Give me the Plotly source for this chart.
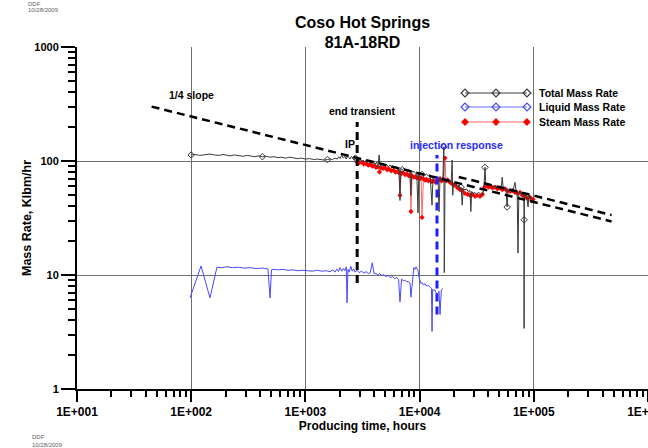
import plotly.graph_objects as go

# ---------------------------------------------------------------------------
# Well 81A-18RD production history: producing time (hours) vs mass rate (Klbm/hr)
# ---------------------------------------------------------------------------
total_hours = [
    100, 108, 119, 132, 146, 160, 175, 190, 205, 219, 240, 262, 285, 310, 335,
    360, 390, 420, 455, 490, 530, 575, 620, 670, 730, 790, 850, 920, 1010, 1090,
    1180, 1270, 1343, 1450, 1560, 1642, 1720, 1816, 1900, 1960, 2010, 2080, 2150,
    2222, 2280, 2340, 2400, 2458, 2530, 2611, 2680, 2750,
    2830, 2900, 2970, 3050, 3120, 3200, 3290, 3380, 3470, 3560, 3650, 3750, 3850,
    3950, 4069, 4200, 4330, 4420, 4500, 4650, 4800, 4977, 5150, 5300, 5505, 5700,
    5900, 6088, 6280, 6470, 6600, 6734, 6850, 7050, 7250, 7448, 7650, 7850, 8050,
    8240, 8400, 8550, 8753, 8950, 9200, 9450, 9683, 9850, 10080, 10300, 10500,
    10800, 11150, 11500, 11900, 12340, 12850, 13100, 13400, 13640, 13900, 14200,
    14500, 14800, 15090, 15500, 16000, 16300, 16450, 16550, 16700, 17100, 17600,
    18000, 18460, 18900, 19270, 19500, 19800, 20420, 20900, 21500, 22000, 22590,
    23100, 23600, 24100, 24980, 25800, 26600, 27630, 28100, 28600, 29500, 30560,
    31500, 32600, 33800, 35000, 36000, 36700, 37390, 38000, 39000, 40000, 41350,
    42500, 43800, 45000, 46500, 48000, 49500, 50580, 51800, 52830, 54000, 55950,
    57000, 58400, 59500, 61000, 62500, 64000, 66000, 68450, 70000, 71500, 72700,
    74000, 75700, 77500, 79500, 81000, 82000, 82200, 82400, 82700, 84500, 86500,
    89100, 90500, 92620, 95000, 97000, 98700,
]
total_rate = [
    113, 114, 112, 113, 115, 113, 112, 114, 112, 111, 113, 112, 110, 112, 110,
    109, 111, 109, 110, 108, 109, 107, 108, 106, 108, 106, 105, 106, 104, 105,
    103, 104, 103, 102, 103, 104, 103, 106, 104, 109, 105, 112, 106, 110, 104,
    111, 107, 104, 110, 105, 102, 106,
    102, 104, 100, 103, 99, 102, 98, 101, 97, 100, 96, 99, 95,
    98, 94, 97, 93, 113, 95, 92, 94, 91, 93, 89, 92, 88,
    90, 87, 89, 86, 88, 45, 86, 84, 86, 83, 85, 82, 84,
    81, 50, 82, 80, 81, 78, 80, 35, 79, 77, 79, 76,
    78, 75, 77, 74, 76, 41, 74, 72, 74, 71, 73,
    70, 36, 72, 69, 71, 133, 10.5, 21.6, 70, 68, 70,
    66, 68, 65, 102, 50, 64, 62, 63, 60, 61, 58,
    59, 41, 57, 56, 57, 54, 55, 36, 54, 52, 53,
    51, 53, 52, 50, 53, 62, 88, 63, 61, 64, 60,
    62, 59, 61, 58, 60, 57, 59, 57, 72, 58, 56,
    58, 39.5, 56, 55, 57, 54, 56, 65, 54, 55, 15.6,
    53, 54, 51, 53, 50, 51, 3.4, 30.5, 50, 52, 49,
    39.5, 50, 47, 48, 46, 47,
]

liquid_hours = [
    97.6, 122, 146, 168, 185, 205, 230, 260, 290, 327, 370, 420, 470, 490, 505,
    531, 580, 640, 700, 780, 860, 950, 1050, 1150, 1270, 1400, 1530, 1642, 1740,
    1816, 1880, 1950, 2010, 2080, 2150, 2222, 2280, 2314, 2360, 2420, 2500, 2570,
    2650, 2720, 2830, 2950, 3100, 3250, 3400, 3550, 3700, 3850, 4000, 4150, 4300,
    4450, 4650, 4850, 5050, 5300, 5550, 5800, 6050, 6300, 6550, 6734, 6950, 7200,
    7450, 7700, 7950, 8240, 8400, 8600, 8753, 8900, 9100, 9300, 9500, 9683, 9900,
    10080, 10300, 10500, 10800, 11150, 11500, 11900, 12340, 12700, 12850, 13000,
    13300, 13640, 13900, 14200, 14500, 14800, 15090, 15500, 16030,
]
liquid_rate = [
    6.3, 12.0, 6.3, 11.7, 11.6, 11.8, 11.6, 11.7, 11.5, 11.6, 11.4, 11.5, 11.3, 6.3, 11.1,
    11.2, 11.1, 11.2, 11.0, 11.1, 10.9, 11.0, 10.9, 10.8, 11.0, 10.8, 10.9, 10.7, 11.1,
    10.6, 11.3, 10.7, 11.6, 10.8, 11.4, 10.9, 11.8, 5.7, 11.2, 10.6, 11.9, 10.8,
    11.3, 10.6, 11.0, 10.5, 10.8, 10.4, 10.7, 10.3, 10.5, 12.8, 10.2, 10.4, 10.0,
    10.3, 9.9, 10.1, 9.7, 9.9, 9.5, 9.7, 9.3, 9.5, 9.1, 5.8, 9.2, 8.9,
    9.0, 8.7, 8.8, 8.5, 6.4, 8.7, 10.8, 11.6, 11.2, 11.8, 11.3, 11.0, 9.5,
    8.7, 8.4, 8.6, 8.2, 8.4, 8.0, 8.1, 7.8, 7.6, 3.2, 7.5,
    7.3, 7.4, 7.0, 6.8, 6.9, 7.2, 4.5, 7.4, 7.6,
]

steam_hours = [
    2830, 2950, 3100, 3250, 3400, 3550, 3700, 3850, 4000, 4150, 4300, 4450, 4600,
    4800, 5000, 5200, 5400, 5650, 5900, 6150, 6400, 6600, 6734, 6900, 7150, 7450,
    7750, 8050, 8240, 8400, 8600, 8900, 9200, 9500, 9800, 10080, 10300, 10500,
    10800, 11150, 11500, 11900, 12340, 12800, 13300, 13800, 14200, 14600, 15090,
    15600, 16000, 16690, 17000, 17600, 18460, 19300, 20420, 21500, 22590, 23600,
    24980, 26300, 27630, 29000, 30560, 32000, 33800, 35500, 37000, 38500, 40000,
    41350, 43500, 45740, 48000, 50580, 53000, 55950, 58500, 61880, 65000, 68450,
    72000, 75700, 79500, 83740, 88000, 92620, 96000, 98700,
]
steam_rate = [
    98, 96, 97, 94, 95, 92, 93, 90, 91, 88, 89, 80, 87,
    86, 87, 84, 85, 82, 83, 80, 81, 79, 50, 78, 79, 76,
    77, 74, 75, 36, 74, 72, 73, 71, 72, 70, 71, 32,
    70, 68, 69, 67, 68, 66, 67, 65, 66, 68, 70,
    67, 69, 106, 67, 68, 65, 63, 61, 58, 56, 55,
    52, 51, 50, 51, 49, 50, 49, 51, 59, 61, 59,
    60, 58, 59, 57, 58, 56, 57, 55, 54, 55, 53,
    52, 53, 50, 49, 47, 48, 45, 46,
]

# Quarter-slope reference lines (rate ~ t^-1/4)
slope_main_hours = [45, 480000]
slope_main_rate = [300, 29.5]
slope_late_hours = [22000, 480000]
slope_late_rate = [72.5, 33.6]

# Event markers
end_transient_hours = [2840, 2840]
end_transient_rate = [8.5, 220]
injection_hours = [14200, 14200]
injection_rate = [4.5, 113]

x_tick_vals = [10, 100, 1000, 10000, 100000, 1000000]
x_tick_text = ["1E+001", "1E+002", "1E+003", "1E+004", "1E+005", "1E+006"]
y_tick_vals = [1, 10, 100, 1000]
y_tick_text = ["1", "10", "100", "1000"]

series_names = ["Total Mass Rate", "Liquid Mass Rate", "Steam Mass Rate"]

FONT = "Liberation Sans, Arial, sans-serif"
BLACK_LINE = "#3a3a3a"
BLUE_LINE = "#4848ff"
RED_LINE = "#ff6868"
RED_MARK = "#ff0000"

x_minor = [m * 10 ** k for k in range(1, 6) for m in range(2, 10)]
y_minor = [m * 10 ** k for k in range(0, 3) for m in range(2, 10)]

fig = go.Figure()

fig.add_trace(go.Scatter(
    x=liquid_hours, y=liquid_rate, mode="lines",
    line=dict(color=BLUE_LINE, width=1), showlegend=False,
))
fig.add_trace(go.Scatter(
    x=steam_hours, y=steam_rate, mode="lines+markers",
    line=dict(color=RED_LINE, width=1),
    marker=dict(symbol="diamond", size=4, color=RED_MARK),
    showlegend=False,
))
fig.add_trace(go.Scatter(
    x=total_hours, y=total_rate, mode="lines+markers",
    line=dict(color=BLACK_LINE, width=1),
    marker=dict(symbol="diamond-open", size=5, color=BLACK_LINE,
                maxdisplayed=12, line=dict(width=1)),
    showlegend=False,
))

dash_style = "8px,5px"
fig.add_trace(go.Scatter(
    x=slope_main_hours, y=slope_main_rate, mode="lines",
    line=dict(color="black", width=2.5, dash=dash_style), showlegend=False,
))
fig.add_trace(go.Scatter(
    x=slope_late_hours, y=slope_late_rate, mode="lines",
    line=dict(color="black", width=2.5, dash=dash_style), showlegend=False,
))
fig.add_trace(go.Scatter(
    x=end_transient_hours, y=end_transient_rate, mode="lines",
    line=dict(color="black", width=3, dash=dash_style), showlegend=False,
))
fig.add_trace(go.Scatter(
    x=injection_hours, y=injection_rate, mode="lines",
    line=dict(color="#1f1fff", width=3, dash=dash_style), showlegend=False,
))

# Key, drawn on an overlay axis spanning the plot area (0..1 in both directions)
key_x = [0.6795, 0.7338, 0.788]
key_rows = [0.8655, 0.8246, 0.7807]
key_styles = [
    dict(line=dict(color=BLACK_LINE, width=1),
         marker=dict(symbol="diamond-open", size=6, color=BLACK_LINE, line=dict(width=1.2))),
    dict(line=dict(color="#6a6aff", width=1.2),
         marker=dict(symbol="diamond-open", size=6, color="#4848ff", line=dict(width=1.2))),
    dict(line=dict(color=RED_LINE, width=1.2),
         marker=dict(symbol="diamond", size=6, color=RED_MARK)),
]
for name, row, style in zip(series_names, key_rows, key_styles):
    fig.add_trace(go.Scatter(
        x=key_x, y=[row] * len(key_x), mode="lines+markers",
        xaxis="x2", yaxis="y2", showlegend=False, hoverinfo="skip", **style,
    ))
    fig.add_annotation(
        x=0.806, y=row, xref="paper", yref="paper", text=name, showarrow=False,
        xanchor="left", yanchor="middle",
        font=dict(family=FONT, size=10.5, color="black", weight="bold"),
    )

label_font = dict(family=FONT, size=10.5, color="black", weight="bold")
fig.add_annotation(x=2.0, y=2.579, xref="x", yref="y", text="1/4 slope",
                   showarrow=False, font=label_font)
fig.add_annotation(x=3.496, y=2.439, xref="x", yref="y", text="end transient",
                   showarrow=False, font=label_font)
fig.add_annotation(x=3.391, y=2.149, xref="x", yref="y", text="IP",
                   showarrow=False, font=label_font)
fig.add_annotation(x=4.327, y=2.140, xref="x", yref="y", text="injection response",
                   showarrow=False, font=dict(family=FONT, size=10.5, color="#2a2aff", weight="bold"))

# Author / date stamps
stamp_font = dict(family=FONT, size=6, color="#606060")
fig.add_annotation(x=-0.089, y=1.127, xref="paper", yref="paper", text="DDF",
                   showarrow=False, xanchor="left", yanchor="middle", font=stamp_font)
fig.add_annotation(x=-0.089, y=1.108, xref="paper", yref="paper", text="10/28/2009",
                   showarrow=False, xanchor="left", yanchor="middle", font=stamp_font)
fig.add_annotation(x=-0.082, y=-0.14, xref="paper", yref="paper", text="DDF",
                   showarrow=False, xanchor="left", yanchor="middle", font=stamp_font)
fig.add_annotation(x=-0.082, y=-0.163, xref="paper", yref="paper", text="10/28/2009",
                   showarrow=False, xanchor="left", yanchor="middle", font=stamp_font)

axis_font = dict(family=FONT, size=12, color="black", weight="bold")
fig.update_layout(
    width=648, height=448,
    margin=dict(l=77, r=0, t=47, b=59, autoexpand=False),
    paper_bgcolor="white", plot_bgcolor="white",
    title=dict(
        text="Coso Hot Springs<br>81A-18RD",
        x=0.5, xref="paper", xanchor="center",
        y=1 - 27.5 / 448, yref="container", yanchor="middle",
        font=dict(family=FONT, size=16, color="black", weight="bold"),
    ),
    xaxis=dict(
        type="log", range=[1, 6], automargin=False,
        showline=True, linecolor="black", linewidth=2,
        ticks="outside", ticklen=11, tickwidth=1.5, tickcolor="black",
        tickvals=x_tick_vals, ticktext=x_tick_text, tickfont=axis_font,
        ticklabeloverflow="allow",
        showgrid=True, gridcolor="#6e6e6e", gridwidth=1, zeroline=False,
        minor=dict(tickvals=x_minor, ticks="outside", ticklen=6, tickwidth=1.5,
                   tickcolor="black", showgrid=False),
        title=dict(text="Producing time, hours", font=axis_font, standoff=3),
    ),
    yaxis=dict(
        type="log", range=[0, 3], automargin=False,
        showline=True, linecolor="black", linewidth=2,
        ticks="outside", ticklen=14, tickwidth=1.5, tickcolor="black",
        tickvals=y_tick_vals, ticktext=y_tick_text,
        tickfont=dict(family=FONT, size=11, color="black", weight="bold"),
        showgrid=True, gridcolor="#6e6e6e", gridwidth=1, zeroline=False,
        minor=dict(tickvals=y_minor, ticks="outside", ticklen=7, tickwidth=1.5,
                   tickcolor="black", showgrid=False),
        title=dict(text="Mass Rate, Klbm/hr", font=dict(family=FONT, size=12.5, color="black", weight="bold"), standoff=0),
    ),
    xaxis2=dict(overlaying="x", range=[0, 1], visible=False, domain=[0, 1]),
    yaxis2=dict(overlaying="y", range=[0, 1], visible=False, domain=[0, 1]),
)

fig.write_html("out.html")
